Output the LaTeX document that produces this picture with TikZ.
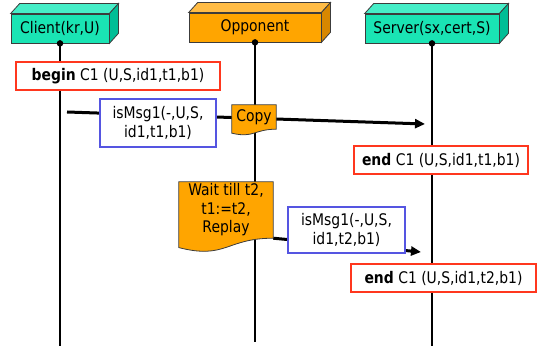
\documentclass[tikz,border=0pt]{standalone}
\usepackage{fontspec}
\setmainfont{DejaVu Sans}[FakeStretch=0.87]
\usetikzlibrary{arrows.meta,calc}
\definecolor{tealF}{RGB}{26,228,180}
\definecolor{tealT}{RGB}{70,238,200}
\definecolor{tealS}{RGB}{0,190,150}
\definecolor{orgF}{RGB}{255,165,0}
\definecolor{orgT}{RGB}{255,188,70}
\definecolor{orgS}{RGB}{215,135,0}
\definecolor{redB}{RGB}{255,55,30}
\definecolor{bluB}{RGB}{85,85,225}
\definecolor{edge}{RGB}{60,60,60}
\tikzset{
  txt/.style={font=\fontsize{16}{18.5}\selectfont, align=center, inner sep=0pt},
  actor/.style={txt, draw=edge, line width=0.8pt, minimum height=29pt},
  evbox/.style={txt, draw=redB, line width=2pt, fill=white, minimum height=28pt},
  msgbox/.style={txt, draw=bluB, line width=2pt, fill=white},
  oppnote/.style={txt},
  lifeline/.style={line width=2pt, black},
  msgline/.style={line width=3pt, black, -{Triangle[length=10pt,width=9pt]}},
  dotc/.style={fill=black, circle, inner sep=0pt, minimum size=6.5pt},
}
\begin{document}
\begin{tikzpicture}[x=1pt,y=-1pt]
\useasboundingbox (0,0) rectangle (538,352);
% actors
\node[actor, fill=tealF, minimum width=98pt] (client) at (60,28.5) {Client(kr,U)};
\node[actor, fill=orgF, minimum width=132pt] (opp) at (255,27.5) {Opponent};
\node[actor, fill=tealF, minimum width=134pt] (server) at (432,28.5) {Server(sx,cert,S)};
\foreach \n/\t/\s in {client/tealT/tealS, opp/orgT/orgS, server/tealT/tealS}{
  \draw[draw=edge, line width=0.8pt, fill=\t] (\n.north west) -- ++(9,-10) -- ($(\n.north east)+(9,-10)$) -- (\n.north east) -- cycle;
  \draw[draw=edge, line width=0.8pt, fill=\s] (\n.north east) -- ++(9,-10) -- ($(\n.south east)+(9,-10)$) -- (\n.south east) -- cycle;
}
% lifeline ends
\coordinate (cend) at (60,346);
\coordinate (oend) at (255,342);
\coordinate (send) at (432,346);
\draw[lifeline] (client.south) -- (cend);
\draw[lifeline] (opp.south) -- (oend);
\draw[lifeline] (server.south) -- (send);
\node[dotc] (cdot) at (client.south) {};
\node[dotc] (odot) at (opp.south) {};
\node[dotc] (sdot) at (server.south) {};
% message lines
\coordinate (m1a) at (67,112);
\coordinate (m1b) at (425,124);
\draw[msgline] (m1a) -- (m1b);
% wait box (node) needed before message 2
\node[oppnote, minimum width=94pt, minimum height=56pt] (wait) at (226,210) {Wait till t2,\\t1:=t2,\\Replay};
\coordinate (m2b) at (421,252);
\draw[msgline] (wait.south east) -- (m2b);
% event boxes
\node[evbox, minimum width=204pt] (begin) at (118,76) {\textbf{begin} C1 (U,S,id1,t1,b1)};
\node[evbox, minimum width=174pt] (end1) at (441,160) {\textbf{end} C1 (U,S,id1,t1,b1)};
\node[evbox, minimum width=185pt] (end2) at (443.5,278) {\textbf{end} C1 (U,S,id1,t2,b1)};
% message boxes
\node[msgbox, minimum width=116pt, minimum height=48pt] (msg1) at (158,123) {isMsg1(-,U,S,\\id1,t1,b1)};
\node[msgbox, minimum width=117pt, minimum height=46pt] (msg2) at (346.5,230) {isMsg1(-,U,S,\\id1,t2,b1)};
% document shapes
\node[oppnote, minimum width=44pt, minimum height=24pt] (copy) at (254,117) {Copy};
\draw[draw=edge, line width=0.8pt, fill=orgF] (copy.north west) -- (copy.north east) -- (copy.south east)
  .. controls (copy.south) and ($(copy.south)+(0,9.2)$) .. ($(copy.south west)+(0,4)$) -- cycle;
\node[oppnote, minimum width=44pt, minimum height=24pt] at (copy) {Copy};
\draw[draw=edge, line width=0.8pt, fill=orgF] (wait.north west) -- (wait.north east) -- (wait.south east)
  .. controls (wait.south) and ($(wait.south)+(0,21.5)$) .. ($(wait.south west)+(0,9.4)$) -- cycle;
\node[oppnote, minimum width=94pt, minimum height=56pt] at (wait) {Wait till t2,\\t1:=t2,\\Replay};
\end{tikzpicture}
\end{document}
